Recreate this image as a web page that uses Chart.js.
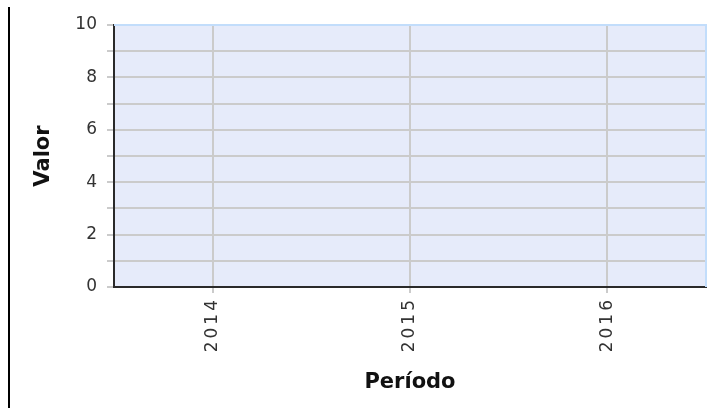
<!DOCTYPE html>
<html>
<head>
<meta charset="utf-8">
<script src="https://cdn.jsdelivr.net/npm/chart.js@4/dist/chart.umd.min.js"></script>
<style>
    html, body { margin: 0; padding: 0; background: #ffffff; }
    #wrap { position: relative; width: 722px; height: 408px; }
    #edge { position: absolute; left: 8px; top: 7px; width: 2px; height: 401px; background: #000000; }
</style>
</head>
<body>
<div id="wrap">
    <div id="edge"></div>
    <canvas id="periodChart" width="722" height="408"></canvas>
</div>
<script>
// categories on the x axis
const periods = ['2014', '2015', '2016'];
// series values (the reference shows no data)
const values = [null, null, null];
// y axis range and step
const yMin = 0;
const yMax = 10;
const yStep = 1;

const plotBackground = {
    id: 'plotBackground',
    beforeDraw(chart) {
        const { ctx, chartArea } = chart;
        ctx.save();
        ctx.fillStyle = '#e6ebfa';
        ctx.fillRect(chartArea.left, chartArea.top, chartArea.right - chartArea.left, chartArea.bottom - chartArea.top);
        ctx.restore();
    },
    beforeDatasetsDraw(chart) {
        const { ctx, chartArea } = chart;
        ctx.save();
        ctx.strokeStyle = '#c2ddfb';
        ctx.lineWidth = 2;
        ctx.beginPath();
        ctx.moveTo(chartArea.left, chartArea.top);
        ctx.lineTo(chartArea.right, chartArea.top);
        ctx.lineTo(chartArea.right, chartArea.bottom);
        ctx.stroke();
        ctx.restore();
    },
};

// wider letter spacing on the rotated year labels
const spacedLabels = {
    id: 'spacedLabels',
    afterLayout(chart) {
        const scale = chart.scales.x;
        if (!scale || scale._spaced) return;
        const orig = scale.drawLabels.bind(scale);
        scale.drawLabels = (area) => {
            chart.ctx.save();
            chart.ctx.letterSpacing = '3px';
            orig(area);
            chart.ctx.restore();
        };
        scale._spaced = true;
    },
};

new Chart(document.getElementById('periodChart'), {
    type: 'bar',
    data: {
        labels: periods,
        datasets: [
            {
                label: 'Valor',
                data: values,
                backgroundColor: '#4572a7',
            },
        ],
    },
    options: {
        responsive: false,
        animation: false,
        layout: {
            padding: { top: 25, right: 16, bottom: 0, left: 0 },
        },
        plugins: {
            legend: { display: false },
            tooltip: { enabled: false },
        },
        scales: {
            x: {
                offset: true,
                afterFit: (scale) => { scale.height = 121; },
                grid: {
                    offset: false,
                    color: '#cbcbcb',
                    lineWidth: 2,
                    tickLength: 6,
                    tickColor: '#cbcbcb',
                },
                border: { color: '#2a2a2a', width: 2 },
                ticks: {
                    autoSkip: false,
                    minRotation: 90,
                    maxRotation: 90,
                    padding: 4,
                    color: '#333333',
                    font: { family: 'DejaVu Sans', size: 17 },
                },
                title: {
                    display: true,
                    text: 'Período',
                    color: '#111111',
                    padding: { top: 0, bottom: 13 },
                    font: { family: 'DejaVu Sans', size: 21, weight: 'bold' },
                },
            },
            y: {
                min: yMin,
                max: yMax,
                afterFit: (scale) => { scale.width = 114; },
                grid: {
                    color: '#cbcbcb',
                    lineWidth: 2,
                    tickLength: 7,
                    tickColor: '#cbcbcb',
                },
                border: { color: '#2a2a2a', width: 2 },
                ticks: {
                    stepSize: yStep,
                    padding: 10,
                    color: '#333333',
                    font: { family: 'DejaVu Sans', size: 17 },
                    callback: (value) => (value % 2 === 0 ? value : ''),
                },
                title: {
                    display: true,
                    text: 'Valor',
                    color: '#111111',
                    padding: { top: 31, bottom: 0 },
                    font: { family: 'DejaVu Sans', size: 21, weight: 'bold' },
                },
            },
        },
    },
    plugins: [plotBackground, spacedLabels],
});
</script>
</body>
</html>
